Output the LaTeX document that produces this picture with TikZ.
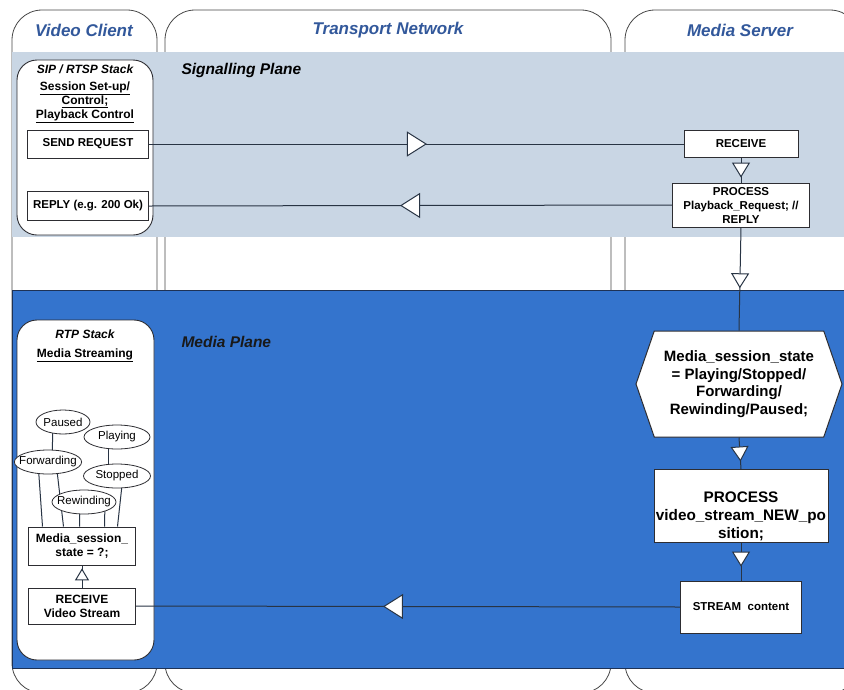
\documentclass[tikz,border=0pt]{standalone}
\usepackage{fontspec}
\setmainfont{Liberation Sans}
\usetikzlibrary{arrows.meta,decorations.markings,shapes.geometric,shapes.symbols,calc}
\definecolor{sigc}{RGB}{201,214,228}
\definecolor{mediac}{RGB}{52,116,205}
\definecolor{mediaedge}{RGB}{30,50,85}
\definecolor{headc}{RGB}{50,88,155}
\definecolor{linec}{RGB}{40,52,68}
\definecolor{boxc}{RGB}{45,45,50}
\definecolor{lanec}{RGB}{70,70,70}
\pgfdeclarelayer{front}
\pgfsetlayers{main,front}

\begin{document}
\begin{tikzpicture}[x=1pt,y=-1pt]

    \tikzset{
      lane/.style={draw=lanec, fill=white, line width=0.8pt, rounded corners=30pt},
      stack/.style={draw=boxc, fill=white, line width=0.9pt, rounded corners=20pt},
      box/.style={draw=boxc, fill=white, line width=1pt, align=center, inner sep=1pt,
        font=\bfseries\fontsize{11.5}{14}\selectfont},
      bigbox/.style={box, font=\bfseries\fontsize{15.3}{18}\selectfont},
      state/.style={ellipse, draw=boxc, fill=white, line width=0.8pt, inner xsep=-5pt, inner ysep=0pt,
        minimum height=24pt, font=\fontsize{11.5}{13}\selectfont},
      head/.style={text=headc, font=\bfseries\itshape\fontsize{17}{20}\selectfont},
      plane/.style={anchor=west, font=\bfseries\itshape\fontsize{15.5}{18}\selectfont},
      small/.style={font=\bfseries\fontsize{12}{14}\selectfont},
      link/.style={draw=linec, line width=1pt},
      flowto/.style={link, postaction={decorate}, decoration={markings,
        mark=at position #1 with {\arrow{Triangle[length=20pt,width=25pt,fill=white]}}}},
      flowsmall/.style={link, postaction={decorate}, decoration={markings,
        mark=at position #1 with {\arrow{Triangle[length=15pt,width=18pt,fill=white]}}}},
    }
    \useasboundingbox (0,0) rectangle (844,689);
    \clip (0,0) rectangle (844,689);

    % lanes and planes
    \draw[lane] (12,10) rectangle (157,693);
    \draw[lane] (165,10) rectangle (611,693);
    \draw[lane] (625,10) rectangle (860,693);
    \fill[sigc] (12,52) rectangle (850,237);
    \draw[draw=mediaedge, fill=mediac, line width=1pt] (12,290) rectangle (850,668);

    \node[head] (client) at (84,30) {Video Client};
    \node[head] (network) at (388,30) {Transport Network};
    \node[head] (server) at (740,30) {Media Server};
    \node[plane] (sigplane) at (178,70) {Signalling Plane};
    \node[plane, text=black!90] (medplane) at (178,342) {Media Plane};

    % signalling plane
    \draw[stack] (17,60) rectangle (153,235);
    \node[font=\bfseries\itshape\fontsize{12}{14}\selectfont] (sip) at (85,69) {SIP / RTSP Stack};
    \node[anchor=north, align=center, small] (control) at (85,78)
      {\underline{Session Set-up/}\\\underline{Control;}\\\underline{Playback Control}};
    \node[box, minimum width=121pt, minimum height=28pt] (send) at (88,144) {SEND REQUEST};
    \node[box, minimum width=121pt, minimum height=29pt] (reply) at (88,206) {REPLY (e.g. 200 Ok)};
    \node[box, minimum width=114pt, minimum height=27pt] (recv) at (741,144) {RECEIVE};
    \node[box, minimum width=137pt, minimum height=44pt] (proc) at (741,205)
      {PROCESS\\Playback\_Request; //\\REPLY};

    \draw[flowto=0.52] (send.east) -- (recv.west);
    \draw[flowto=0.52] (proc.west) -- (reply.east);
    \draw[flowsmall=0.8] (recv.south) -- (proc.north);

    % media plane
    \node[signal, signal to=west and east, signal pointer angle=142, draw=boxc, fill=white,
      line width=1pt, minimum width=206pt, minimum height=106pt, inner sep=0pt, align=center,
      font=\bfseries\fontsize{15}{17.5}\selectfont] (state) at (739,384)
      {Media\_session\_state\\= Playing/Stopped/\\Forwarding/\\Rewinding/Paused;};
    \node[bigbox, minimum width=174pt, minimum height=73pt, inner sep=0pt, text height=68pt] (newpos) at (741,506)
      {PROCESS\\video\_stream\_NEW\_po\\sition;};
    \node[box, minimum width=121pt, minimum height=52pt] (stream) at (741,607) {STREAM\ \ content};

    \draw[flowsmall=0.59] (proc.south) -- (state.north);
    \draw[flowsmall=0.76] (state.south) -- (newpos.north);
    \draw[flowsmall=0.63] (newpos.south) -- (stream.north);

    \draw[stack] (17,320) rectangle (154,660);
    \node[font=\bfseries\itshape\fontsize{12}{14}\selectfont] (rtp) at (85,334) {RTP Stack};
    \node[small] (streaming) at (85,355) {\underline{Media Streaming}};
    \node[box, minimum width=107pt, minimum height=38pt, small]
      (mstate) at (82,546) {Media\_session\_\\state = ?;};
    \node[box, minimum width=107pt, minimum height=36pt, small]
      (rcvvs) at (82,606) {RECEIVE\\Video Stream};

    \begin{pgfonlayer}{front}
      \node[state, minimum width=54pt] (paused) at (63,422) {Paused};
      \node[state, minimum width=66pt] (playing) at (117,437) {Playing};
      \node[state, minimum width=64pt] (forward) at (48,462) {Forwarding};
      \node[state, minimum width=67pt] (stopped) at (117,476) {Stopped};
      \node[state, minimum width=64pt] (rewind) at (84,502) {Rewinding};
    \end{pgfonlayer}

    \draw[link] ($(paused.center)+(-10,0)$) -- ($(forward.center)+(4,0)$);
    \draw[link] ($(playing.center)+(-9,0)$) -- ($(stopped.center)+(-9,0)$);
    \draw[link] ($(forward.center)+(-10,0)$) -- ($(mstate.north west)+(14.5,0)$);
    \draw[link] ($(forward.center)+(8,0)$) -- ($(mstate.north west)+(35.5,0)$);
    \draw[link] ($(rewind.center)+(-4,0)$) -- ($(mstate.north west)+(51.5,0)$);
    \draw[link] ($(rewind.center)+(21,0)$) -- ($(mstate.north west)+(76.5,0)$);
    \draw[link] ($(stopped.center)+(6,0)$) -- ($(mstate.north west)+(89.5,0)$);

    \draw[flowto=0.546] (stream.west) -- (rcvvs.east);
    \draw[link, postaction={decorate}, decoration={markings, mark=at position 0.87 with
      {\arrow{Triangle[length=12pt,width=14pt,fill=white]}}}] (rcvvs.north) -- (mstate.south);

\end{tikzpicture}
\end{document}
